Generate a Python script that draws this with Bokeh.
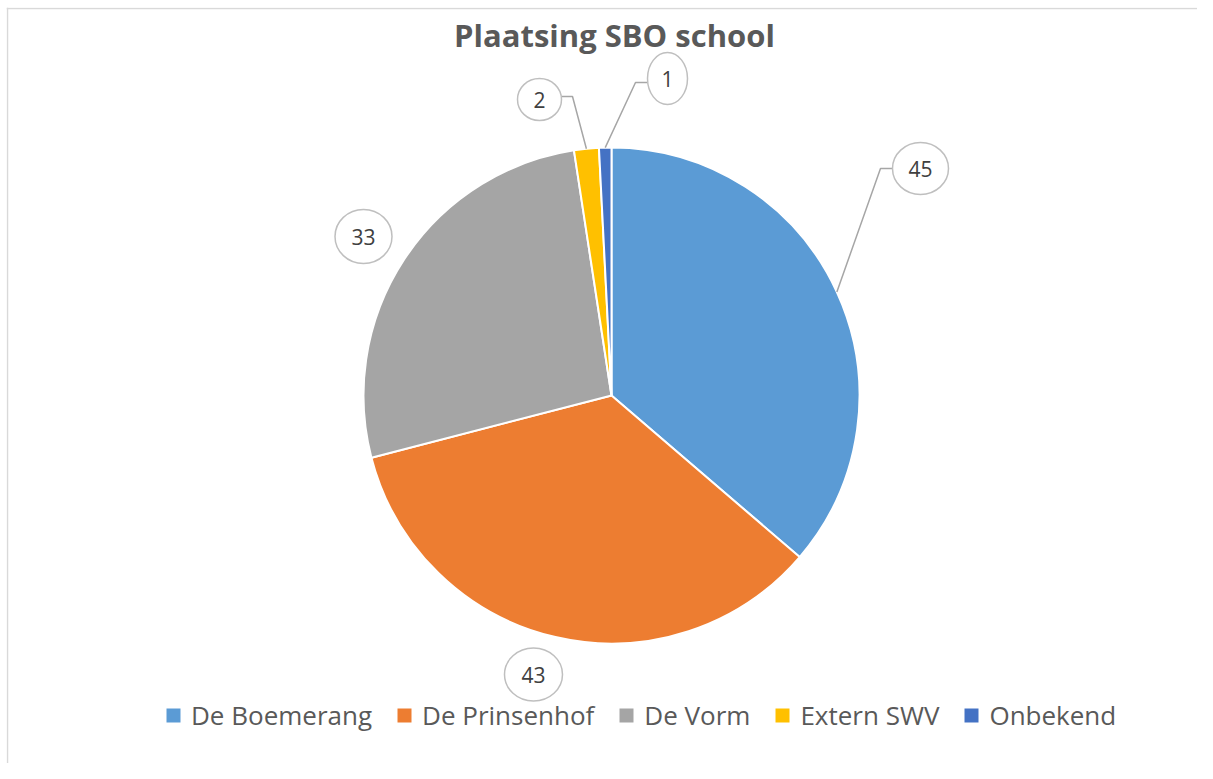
import numpy as np
from bokeh.plotting import figure
from bokeh.models import ColumnDataSource, Range1d, Label, Span
from bokeh.core.properties import value
from bokeh.embed import file_html
from bokeh.resources import INLINE

# ---- data ----
categories = ["De Boemerang", "De Prinsenhof", "De Vorm", "Extern SWV", "Onbekend"]
counts = [45, 43, 33, 2, 1]
colors = ["#5B9BD5", "#ED7D31", "#A5A5A5", "#FFC000", "#4472C4"]
title_text = "Plaatsing SBO school"

# ---- layout (image pixel positions) ----
W, H = 1197, 763
IMG_H = 779
FL, FT = 6, 7  # frame left / top offsets
cx, cy, R = 611, 395, 248
label_x = [920, 533, 363, 539, 667]
label_y = [168, 674, 236, 99, 78]
label_w = [56, 58, 57, 44, 40]
label_h = [52, 53, 54, 42, 52]
# leader lines: (start x, elbow x, y) for slices that have one
leader = {0: (892, 880, 168), 3: (561, 572, 96), 4: (647, 635, 82)}


def py(y):
    return IMG_H - y


total = float(sum(counts))
cum = np.cumsum([0] + counts)
start = np.pi / 2 - 2 * np.pi * cum[:-1] / total
end = np.pi / 2 - 2 * np.pi * cum[1:] / total
mid = (start + end) / 2

src = ColumnDataSource(dict(
    cat=categories, val=counts, color=colors,
    start=start, end=end,
    x=[cx] * len(counts), y=[py(cy)] * len(counts),
))

p = figure(width=W, height=H, output_backend="svg", toolbar_location=None,
           x_range=Range1d(FL, W), y_range=Range1d(py(H), py(FT)),
           x_axis_type=None, y_axis_type=None, min_border=0,
           min_border_left=FL, min_border_top=FT)
p.grid.visible = False
p.outline_line_color = None
p.background_fill_color = "white"

# chart-area border (only left and top edges fall inside the picture)
p.add_layout(Span(location=FL + 1, dimension="height",
                  line_color="#D9D9D9", line_width=1.5))
p.add_layout(Span(location=py(FT + 1), dimension="width",
                  line_color="#D9D9D9", line_width=1.5))

p.wedge(x="x", y="y", radius=R, start_angle="start", end_angle="end",
        direction="clock", fill_color="color", line_color="white",
        line_width=2, legend_field="cat", source=src)

# leader lines
xs, ys = [], []
for i, (sx, ex, ly) in leader.items():
    tx = cx + R * np.cos(mid[i])
    ty = cy - R * np.sin(mid[i])
    xs.append([sx, ex, tx])
    ys.append([py(ly), py(ly), py(ty)])
p.multi_line(xs=xs, ys=ys, line_color="#A6A6A6", line_width=1.5)

# label bubbles
lsrc = ColumnDataSource(dict(
    x=label_x, y=[py(v) for v in label_y], w=label_w, h=label_h,
    txt=[str(v) for v in counts],
))
p.ellipse(x="x", y="y", width="w", height="h", source=lsrc,
          fill_color="white", line_color="#BFBFBF", line_width=1.5)
p.text(x="x", y="y", text="txt", source=lsrc, text_align="center",
       text_baseline="middle", text_font=value("Open Sans"),
       text_font_size="21px", text_color="#404040")

# title
p.add_layout(Label(x=614, y=py(34), text=title_text, text_align="center",
                   text_baseline="alphabetic", text_font="Open Sans",
                   text_font_style="bold", text_font_size="31px",
                   text_color="#595959"))

lg = p.legend[0]
lg.orientation = "horizontal"
lg.location = (157, 30)
lg.glyph_width = 20
lg.glyph_height = 20
lg.label_standoff = 8
lg.spacing = 22
lg.padding = 0
lg.margin = 0
lg.border_line_color = None
lg.background_fill_alpha = 0
lg.label_text_font = "Open Sans"
lg.label_text_font_size = "26px"
lg.label_text_color = "#595959"

open("out.html", "w").write(file_html(p, INLINE))
